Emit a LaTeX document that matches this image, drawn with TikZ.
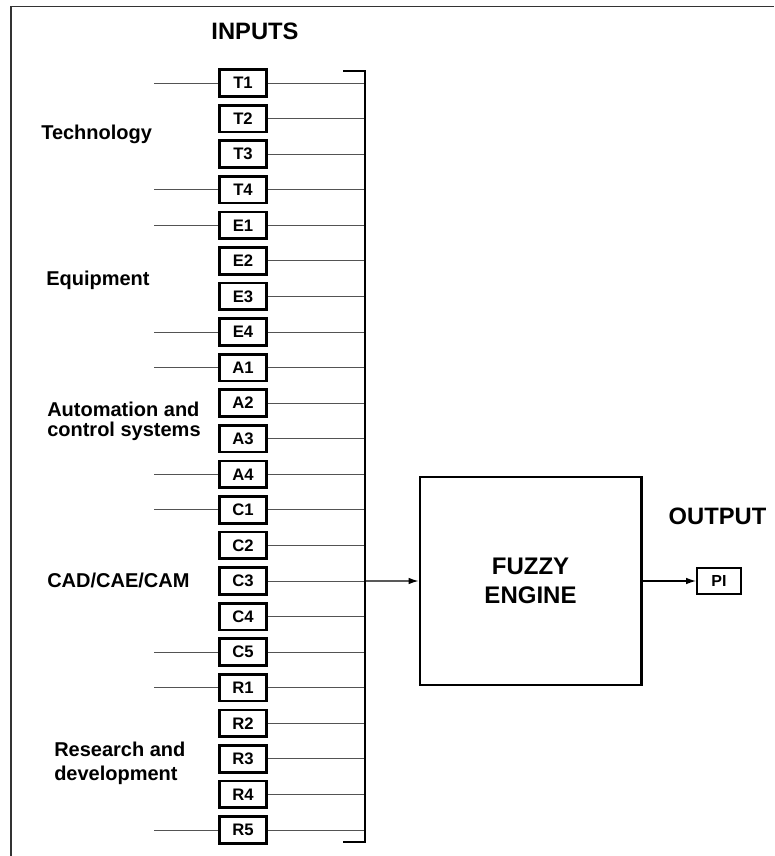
\documentclass[tikz,border=0pt]{standalone}
\usepackage{fontspec}
\setmainfont{Liberation Sans}
\usetikzlibrary{arrows.meta, positioning}

\begin{document}
\begin{tikzpicture}[x=0.75pt, y=-0.75pt, >={Latex[length=7.5pt,width=5pt]},
      inbox/.style={draw, line width=2pt, minimum width=35pt, minimum height=20pt,
                    inner sep=0pt, font=\fontsize{12.5}{14}\selectfont\bfseries},
      outbox/.style={draw, line width=1.5pt, minimum width=33pt, minimum height=20pt,
                     inner sep=0pt, font=\fontsize{12}{14}\selectfont\bfseries},
      feed/.style={gray!65!black, line width=0.7pt},
      bus/.style={black, line width=1.4pt},
      grp/.style={anchor=base west, align=left, inner sep=0pt,
                  font=\fontsize{15}{15}\selectfont\bfseries},
      head/.style={anchor=base, font=\fontsize{17.8}{21}\selectfont\bfseries}]

    \useasboundingbox (0,0) rectangle (774,856);

    % Page frame
    \coordinate (fbl) at (11,856);
    \coordinate (ftl) at (11,6.5);
    \coordinate (ftr) at (774,6.5);
    \draw[gray!40!black, line width=1.3pt] (fbl) -- (ftl) -- (ftr);

    % Headings
    \node[head] (inp)  at (255,40)    {INPUTS};
    \node[head] (outp) at (717.5,524) {OUTPUT};

    % Bus and free ends
    \coordinate (bustop) at (365,71);
    \coordinate (busbot) at (365,842);
    \coordinate (tickt)  at (343,71);
    \coordinate (tickb)  at (343,842);
    \coordinate (leftx)  at (154,0);

    % Input boxes, one row each
    \foreach \lbl [count=\i from 0] in {T1,T2,T3,T4,E1,E2,E3,E4,A1,A2,A3,A4,C1,C2,C3,C4,C5,R1,R2,R3,R4,R5} {
        \node[inbox] (\lbl) at (243,{83+35.57*\i}) {\lbl};
        \draw[feed] (\lbl.east) -- (\lbl.east -| bustop);
    }
    % Outside feeds (first and last of each group)
    \foreach \lbl in {T1,T4,E1,E4,A1,A4,C1,C5,R1,R5}
        \draw[feed] (leftx |- \lbl.west) -- (\lbl.west);

    \draw[bus] (tickt) -- (bustop) -- (busbot) -- (tickb);

    % Group labels (base = last line)
    \node[grp] (tech)  at (41,139) {Technology};
    \node[grp] (equip) at (46,285) {Equipment};
    \node[grp] (auto)  at (47,436) {Automation and\\control systems};
    \node[grp] (cad)   at (47,587) {CAD/CAE/CAM};
    \node[grp, font=\fontsize{15}{18}\selectfont\bfseries] (rnd) at (54,780) {Research and\\development};

    % Engine and output
    \node[draw, line width=2pt, minimum width=166pt, minimum height=156pt, align=center,
          text depth=-5pt, font=\fontsize{18}{21.75}\selectfont\bfseries] (fuzzy) at (530.5,581) {FUZZY\\ENGINE};
    \node[outbox] (pi) at (719,581) {PI};

    \draw[->, line width=0.9pt] (C3.east -| bustop) -- (fuzzy.west);
    \draw[->, line width=0.9pt] (fuzzy.east) -- (pi.west);

\end{tikzpicture}
\end{document}
